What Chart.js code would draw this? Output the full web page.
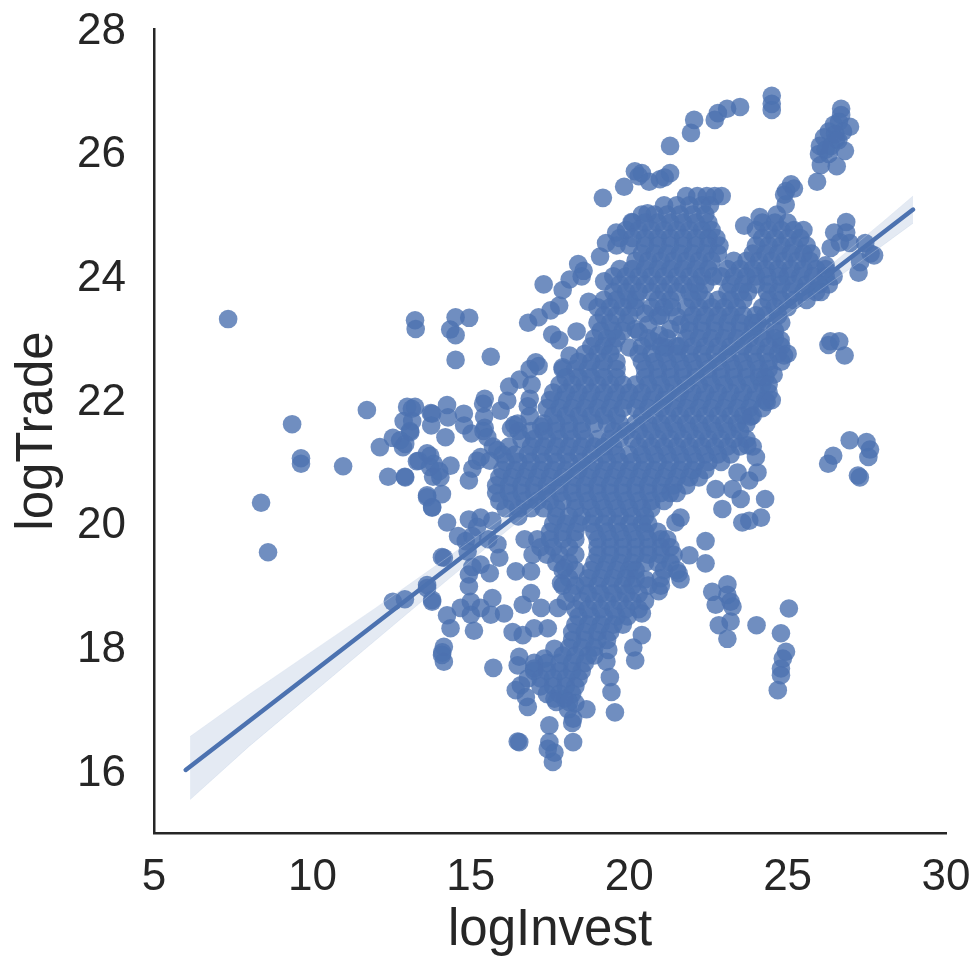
<!DOCTYPE html>
<html>
<head>
<meta charset="utf-8">
<title>logInvest vs logTrade</title>
<script src="https://cdn.jsdelivr.net/npm/chart.js@4"></script>
<style>
  body { margin: 0; background: #fff; }
  canvas { display: block; filter: blur(0.5px); }
</style>
</head>
<body>
<canvas id="chart" width="977" height="956"></canvas>
<script>
const xTicks = [5, 10, 15, 20, 25, 30];
const yTicks = [16, 18, 20, 22, 24, 26, 28];

const looseInvest = [
  7.34, 9.36, 9.64, 9.64, 10.97, 8.38, 8.6, 11.72, 13.24,
  12.99, 13.24, 13.74, 13.08, 12.54, 12.77, 12.86, 12.13, 12.39, 12.92, 13.62, 13.3, 13.71, 13.81, 13.62, 13.78, 13.62, 12.54, 12.92, 13.78, 14.09,
  24.5, 24.5, 24.5, 23.5, 23.09, 22.8, 22.7, 22.05, 21.95, 21.29, 20.18, 20.4, 20.3, 20.63, 20.97, 21.29, 21.12, 19.84, 19.17,
  26.69, 26.69, 26.62, 26.46, 26.97, 26.3, 26.75, 26.15, 26.53, 26.02, 26.37, 26.81, 25.99, 26.3, 26.05, 26.55, 25.93, 26.5, 26.6, 26.2,
  25.11, 25.2, 24.95, 24.89, 24.94,
  13.26, 14.52, 14.95, 14.35, 14.52, 14.52, 15.63, 17.05, 16.86, 17.14, 16.54, 16.21, 16.92, 16.86, 15.44, 15.39, 16.15, 15.94, 16.8, 16.86, 14.28, 13.15, 12.88, 13.75, 14.79, 15.44, 16.37, 16.5,
  16.81, 17.14, 17.52, 17.79, 17.9, 18.12, 17.3, 18.39, 18.5, 18.56, 18.72, 19.08, 19.27, 19.21, 19.59, 20.08, 20.58, 17.57, 17.79, 18.34, 18.12, 17.9,
  23.63, 24.12, 24.66,
  26.85, 26.47, 26.85, 26.96, 26.36, 26.65, 26.2, 27.45, 27.62, 27.24, 27.29, 27.73,
  26.29, 26.63, 26.8, 26.35, 24.78, 24.89, 24.56, 24.34,
  26.96, 27.49, 27.55, 26.44, 26.28, 27.28, 27.22, 27.6,
  24.29, 24.16, 23.79, 23.57, 23.52, 23.26, 22.94, 22.73, 23.42, 23.79, 24.05, 23.73, 24, 23.84, 21.62, 21.46, 22.41, 21.9, 22.41, 21.62, 21.56,
  23.1, 22.62, 23.1, 22.73, 23.26, 23.2, 22.83, 23.2, 23.1, 24.02, 25.04, 24.79, 24.95, 24.85, 24.79, 24.79, 24.69,
  20.4, 20.93, 20.5, 20.4, 20.13, 20.19, 19.55, 19.44, 19.39, 19.28, 19.34,
  18.65, 18.23, 18.2, 18.23, 17.48, 17.48, 17.43, 17.64, 17.59, 16.53, 16.48, 16.8, 16.74, 16.42, 16.58, 17.96, 17.64, 18.07, 18.3, 15.71, 16.53, 16.48,
  14.15, 14.09, 14.15, 14.1, 14.36, 14.25, 15.1, 15, 15, 15.68, 15.63, 16.05, 14.68, 15.31, 16.32, 16.64, 17.43, 17, 16.64, 17.22, 17.75, 16.9, 16.42, 16.9, 17.85, 17.96, 17.64, 17.32, 17,
  13.78, 13.62, 14.15, 14.84, 15.05, 14.94, 14.94, 15.31, 15.9, 14.25, 14.94, 15.31, 15.68, 15.84,
  13.78, 13.62, 14.09, 14.94, 14.04, 12.93, 14.36, 13.83, 13.72, 14.0, 15.2, 15.05, 15.31, 14.2, 13.09, 12.93, 15.02, 15.42, 14.78, 13.78, 13.14, 14.25, 13.35, 16.48, 17.22, 16.27, 15.4, 15.52, 15.84, 15.6,
  20.2, 20.6, 20.95, 21.62, 21.15, 20.75, 20.3, 21.3, 20.9, 20.5, 20.0, 21.5,
  14.6, 14.9, 15.2, 15.55, 15.05, 15.6, 16.7, 16.95
];
const looseTrade = [
  23.31, 21.61, 21.06, 20.97, 20.93, 20.34, 19.54, 21.84, 23.29,
  21.89, 21.89, 21.79, 21.5, 21.39, 21.35, 21.24, 21.24, 20.76, 20.76, 21.14, 21.01, 20.92, 20.76, 20.46, 20.27, 19.01, 18.74, 18.78, 18.77, 19.46,
  26.92, 26.79, 26.69, 26.74, 26.71, 26.64, 26.53, 26.53, 26.32, 26.11, 25.7, 25.67, 25.62, 25.53, 25.57, 25.67, 25.6, 25.45, 25.27,
  26.71, 26.61, 26.5, 26.45, 26.42, 26.34, 26.34, 26.25, 26.22, 26.11, 26.11, 26.03, 25.98, 25.98, 25.8, 25.78, 25.53, 26.3, 26.2, 26.05,
  25.49, 25.42, 25.38, 25.32, 25.16,
  23.15, 23.34, 23.33, 23.14, 23.05, 22.65, 22.7, 22.61, 22.5, 22.55, 22.33, 22.22, 22.25, 22.02, 22.02, 21.94, 21.99, 21.83, 21.9, 21.74, 21.72, 21.66, 21.66, 21.59, 21.59, 21.55, 21.6, 21.5,
  23.25, 23.34, 23.45, 23.53, 23.78, 23.95, 23.87, 24.2, 24.0, 24.09, 23.59, 24.32, 24.54, 23.92, 24.71, 24.88, 25.02, 23.06, 22.97, 23.11, 22.72, 22.53,
  24.82, 24.96, 25.0,
  24.88, 24.71, 24.71, 24.54, 24.46, 24.55, 24.18, 24.54, 24.37, 24.06, 24.23, 24.34,
  22.89, 22.95, 22.72, 22.95, 22.97, 22.72, 22.41, 21.97,
  21.35, 21.32, 21.08, 21.1, 20.97, 20.75, 20.78, 21.2,
  20.4, 20.1, 20.05, 20.02, 20.4, 20.56, 20.24, 20.56, 20.83, 20.7, 20.83, 21.27, 21.08, 21.73, 20.1, 20.02, 19.72, 19.49, 19.36, 19.1, 19.2,
  19.02, 18.9, 18.85, 18.69, 18.66, 18.74, 18.36, 18.42, 18.14, 18.36, 18.63, 18.23, 17.93, 17.82, 17.66, 17.55, 17.31,
  18.55, 18.91, 19.1, 18.2, 18.0, 17.79, 16.95, 17.28, 17.52, 17.77, 17.96,
  17.0, 16.85, 16.78, 16.47, 16.74, 16.47, 16.36, 16.3, 16.15, 16.47, 16.48, 17.04, 17.2, 17.31, 17.39, 17.17, 17.17, 17.0, 17.1, 17.67, 17.85, 17.71,
  17.77, 17.88, 18.01, 17.92, 18.31, 18.52, 18.27, 18.74, 18.53, 18.8, 18.53, 18.55, 18.64, 18.64, 18.25, 18.2, 18.31, 18.31, 18.69, 18.64, 18.64, 18.88, 19.23, 19.23, 19.04, 19.29, 17.98, 17.82, 17.66,
  18.74, 18.96, 19.45, 19.72, 19.8, 19.18, 18.99, 19.34, 19.45, 20.02, 20.07, 20.1, 20.05, 19.67,
  20.26, 20.43, 20.48, 20.7, 20.75, 20.75, 20.94, 20.97, 21.1, 20.85, 21.02, 20.89, 21.08, 21.4, 21.48, 21.29, 21.46, 21.73, 21.78, 21.78, 21.86, 21.92, 21.02, 21.62, 21.57, 21.54, 21.5, 21.4, 21.19, 21.02,
  23.15, 23.22, 23.05, 23.22, 22.85, 22.95, 23.1, 23.15, 23.35, 23.4, 22.85, 23.35,
  19.8, 19.55, 19.95, 19.75, 19.3, 19.2, 19.75, 19.5
];

const rowTrade = [
  25.3, 25.15, 25.0, 24.87, 24.75, 24.62, 24.5, 24.37, 24.25, 24.12, 24.0, 23.87, 23.75, 23.62, 23.5, 23.37, 23.25, 23.12,
  23.0, 22.87, 22.75, 22.62, 22.5, 22.37, 22.25, 22.12, 22.0, 21.87, 21.75, 21.62, 21.5, 21.37, 21.25, 21.12,
  21.0, 20.87, 20.75, 20.62, 20.5, 20.37, 20.25, 20.12, 20.0, 19.87, 19.75, 19.62, 19.5, 19.37, 19.25, 19.12,
  19.0, 18.87, 18.75, 18.62, 18.5, 18.37, 18.25, 18.12, 18.0, 17.87, 17.75, 17.62, 17.5, 17.37, 17.25, 17.12
];
const rowInvest = [
  [21.8, 22.15, 22.45, 22.7, 22.92],
  [21.1, 21.5, 21.9, 22.3, 22.55],
  [20.4, 20.8, 21.2, 21.6, 22.0, 22.4],
  [20.1, 20.5, 20.9, 21.3, 21.7, 22.1, 22.5, 24.2, 24.6, 25.0],
  [19.9, 20.3, 20.7, 21.1, 21.5, 21.9, 22.3, 22.6, 24.0, 24.4, 24.8, 25.2, 25.5],
  [19.7, 20.1, 20.5, 20.9, 21.3, 21.7, 22.1, 22.5, 22.75, 24.2, 24.6, 25.0, 25.4],
  [19.6, 20.0, 20.5, 20.9, 21.3, 21.7, 22.1, 22.5, 22.85, 24.0, 24.4, 24.8, 25.2, 25.6],
  [20.4, 20.8, 21.2, 21.6, 22.0, 22.4, 22.8, 23.9, 24.3, 24.7, 25.1, 25.5, 25.75],
  [20.2, 20.6, 21.0, 21.4, 21.8, 22.2, 22.6, 23.3, 23.7, 24.1, 24.5, 24.9, 25.3, 25.7],
  [19.7, 20.1, 20.5, 20.9, 21.3, 21.7, 22.1, 22.5, 23.1, 23.5, 23.9, 24.3, 24.7, 25.1, 25.5, 25.9, 26.2],
  [19.5, 19.9, 20.3, 20.7, 21.1, 21.5, 21.9, 22.3, 22.65, 22.9, 23.3, 23.7, 24.0, 24.35, 24.75, 25.0, 25.4, 25.8, 26.2, 26.45],
  [19.7, 20.1, 20.5, 20.9, 21.3, 21.7, 22.1, 22.4, 23.2, 23.6, 24.0, 24.4, 24.8, 25.2, 25.6, 26.0, 26.3],
  [19.5, 19.9, 20.3, 20.7, 21.1, 21.5, 21.9, 22.2, 23.1, 23.5, 23.75, 24.35, 24.7, 25.1, 25.5, 25.9, 26.05],
  [19.2, 19.6, 20.0, 20.2, 20.9, 21.3, 22.0, 22.4, 22.8, 23.2, 23.6, 24.4, 24.8, 25.2, 25.6],
  [19.0, 19.4, 19.8, 20.2, 20.7, 21.1, 21.35, 21.8, 22.2, 22.6, 23.0, 23.4, 24.2, 24.6, 25.0],
  [19.2, 19.6, 20.0, 21.0, 22.0, 22.4, 22.8, 23.2, 23.6, 24.0, 24.3, 24.7],
  [19.0, 19.4, 19.9, 21.9, 22.3, 22.7, 23.1, 23.5, 23.9, 24.05, 24.8],
  [19.1, 19.5, 19.8, 21.9, 22.3, 22.7, 23.1, 23.5, 23.9, 24.3, 24.6],
  [18.9, 19.3, 19.6, 20.6, 21.2, 21.8, 22.2, 22.6, 23.0, 23.4, 23.8, 24.2, 24.6],
  [18.8, 19.2, 19.5, 20.4, 21.0, 21.5, 21.6, 22.0, 22.4, 22.8, 23.2, 23.6, 24.0, 24.4, 24.8],
  [18.6, 19.0, 19.4, 20.3, 20.7, 21.1, 21.5, 21.9, 22.3, 22.7, 23.1, 23.5, 23.9, 24.3, 24.7, 25.0],
  [18.4, 18.8, 19.2, 19.6, 20.4, 20.8, 21.2, 21.6, 22.0, 22.4, 22.8, 23.2, 23.6, 24.0, 24.4, 24.8],
  [17.9, 18.3, 18.7, 19.1, 19.6, 20.5, 20.9, 21.3, 21.7, 22.1, 22.5, 22.9, 23.3, 23.7, 24.1, 24.4],
  [18.0, 18.4, 18.8, 19.2, 19.6, 20.5, 20.9, 21.3, 21.7, 22.1, 22.5, 22.9, 23.3, 23.7, 24.1, 24.3],
  [17.8, 18.2, 18.6, 19.0, 19.4, 19.8, 20.2, 20.6, 21.0, 21.4, 21.8, 22.2, 22.6, 23.0, 23.4, 23.8, 24.2, 24.4],
  [17.6, 18.0, 18.4, 18.8, 19.2, 19.6, 20.0, 20.4, 20.8, 21.2, 21.6, 22.0, 22.4, 22.8, 23.2, 23.6, 24.0, 24.4],
  [17.5, 17.9, 18.3, 18.7, 19.1, 19.5, 19.9, 20.3, 20.7, 21.1, 21.5, 21.9, 22.3, 22.7, 23.1, 23.5, 23.9, 24.3, 24.5],
  [17.4, 17.8, 18.2, 18.6, 19.0, 19.4, 19.8, 20.2, 20.6, 21.0, 21.4, 21.8, 22.2, 22.6, 23.0, 23.4, 23.8, 24.2],
  [17.6, 18.0, 18.4, 18.8, 19.2, 19.6, 20.4, 20.8, 21.2, 21.6, 22.0, 22.4, 22.8, 23.2, 23.6, 23.9],
  [17.3, 17.7, 18.1, 18.5, 18.9, 19.3, 19.7, 20.2, 20.6, 21.0, 21.4, 21.8, 22.2, 22.6, 23.0, 23.4, 23.7],
  [16.9, 17.3, 17.7, 18.1, 18.5, 19.5, 19.9, 20.3, 20.7, 21.1, 21.5, 21.9, 22.3, 22.7, 23.1, 23.5],
  [16.6, 17.0, 17.4, 17.8, 18.2, 18.6, 19.0, 19.4, 19.7, 20.1, 20.5, 20.9, 21.3, 21.7, 22.1, 22.5, 22.9, 23.3, 23.7],
  [15.7, 16.2, 16.9, 17.3, 17.7, 18.1, 18.5, 18.9, 19.2, 19.5, 20.3, 20.7, 21.1, 21.5, 21.9, 22.3, 22.7, 23.1, 23.5, 23.9],
  [16.0, 16.4, 16.8, 17.2, 17.6, 18.0, 18.4, 18.8, 19.2, 19.6, 20.0, 20.4, 20.8, 21.2, 21.6, 22.0, 22.4, 22.8, 23.2],
  [16.1, 16.5, 16.9, 17.3, 17.7, 18.1, 18.5, 18.9, 19.3, 19.7, 20.1, 20.5, 20.9, 21.3, 21.7, 22.1, 22.5, 22.9],
  [16.0, 16.4, 16.8, 17.2, 17.6, 18.0, 18.4, 18.8, 19.2, 19.6, 20.0, 20.4, 20.8, 21.2, 21.6, 22.0, 22.4],
  [15.9, 16.3, 16.7, 17.1, 17.5, 17.9, 18.3, 18.7, 19.1, 19.5, 19.9, 20.3, 20.7, 21.1, 21.5, 21.9, 22.2],
  [15.8, 16.2, 16.6, 17.0, 17.4, 17.8, 18.2, 18.6, 19.0, 19.4, 19.8, 20.2, 20.6, 21.0, 21.4, 21.8],
  [15.8, 16.2, 16.6, 17.0, 17.4, 17.8, 18.2, 18.6, 19.0, 19.4, 19.8, 20.2, 20.6, 21.0, 21.3, 21.5],
  [15.9, 16.3, 16.7, 17.1, 17.5, 17.9, 18.3, 18.7, 19.1, 19.5, 19.9, 20.3, 20.7, 21.1],
  [16.1, 16.5, 16.9, 17.3, 17.7, 18.3, 18.8, 19.2, 19.6, 20.0, 20.4, 20.7],
  [16.5, 17.7, 18.1, 18.5, 18.9, 19.3, 19.7, 20.1, 20.5],
  [17.6, 18.0, 18.4, 18.8, 19.2, 19.6, 20.0, 20.4, 20.6],
  [17.5, 17.9, 18.3, 18.9, 19.3, 19.7, 20.1, 20.5, 20.9],
  [17.1, 17.5, 17.9, 18.3, 19.0, 19.4, 19.8, 20.2, 20.6, 21.0, 21.2],
  [17.2, 17.6, 18.1, 19.0, 19.4, 19.8, 20.2, 20.6, 21.0, 21.3],
  [17.4, 17.8, 18.3, 19.0, 19.4, 19.8, 20.2, 20.6, 21.0, 21.4],
  [17.7, 18.1, 18.9, 19.3, 19.7, 20.1, 20.5, 20.9, 21.3],
  [17.9, 18.3, 18.8, 19.2, 19.6, 20.0, 20.2, 21.1, 21.5],
  [18.1, 18.7, 19.1, 19.5, 19.9, 20.2, 21.0],
  [17.9, 18.3, 18.6, 19.0, 19.4, 19.8, 20.1, 20.6, 21.0],
  [18.2, 18.7, 19.1, 19.5, 19.9, 20.3],
  [18.0, 18.5, 18.9, 19.3, 19.7, 20.1, 20.5],
  [18.3, 18.7, 19.1, 19.5, 19.9, 20.3],
  [18.4, 18.8, 19.2, 19.6, 19.95],
  [18.3, 18.7, 19.1, 19.5, 19.8],
  [18.2, 18.6, 19.0, 19.4],
  [18.2, 18.6, 19.0, 19.3],
  [18.1, 18.5, 18.9],
  [17.9, 18.3, 18.7, 18.9],
  [17.0, 17.4, 17.8, 18.2, 18.6],
  [17.0, 17.4, 17.8, 18.2, 18.5],
  [16.8, 17.2, 17.6, 18.0, 18.4],
  [17.2, 17.6, 18.0, 18.3],
  [17.4, 17.8, 18.2],
  [17.7, 18.1]
];

// regression line and its confidence band
const lineInvest = [6.0, 28.96];
const lineTrade = [16.02, 25.08];
const bandInvest = [6.14, 8, 10, 12, 14, 16, 18, 20, 22, 24, 26, 28, 28.96];
const bandUpper = [16.56, 17.24, 17.94, 18.64, 19.36, 20.09, 20.84, 21.62, 22.4, 23.21, 24.03, 24.88, 25.3];
const bandLower = [15.54, 16.4, 17.26, 18.12, 18.98, 19.83, 20.66, 21.46, 22.24, 23.01, 23.77, 24.5, 24.86];

const COLOR = "#4c72b0";
const TEXT = "#262626";
const TICK_FONT = { family: "'Liberation Sans', Arial, sans-serif", size: 44 };
const TITLE_FONT = { family: "'Liberation Sans', Arial, sans-serif", size: 51, lineHeight: 1 };

const points = looseInvest.map((x, i) => ({ x: x, y: looseTrade[i] }));
rowTrade.forEach((y, r) => {
    rowInvest[r].forEach((x) => points.push({ x: x, y: y }));
});

new Chart(document.getElementById("chart"), {
    type: "scatter",
    data: {
        datasets: [
            {
                data: points,
                backgroundColor: "rgba(76,114,176,0.8)",
                borderWidth: 0,
                pointRadius: 9.3,
                order: 3
            },
            {
                type: "line",
                data: bandInvest.map((x, i) => ({ x: x, y: bandUpper[i] })),
                borderColor: "rgba(205,218,236,0.35)",
                borderWidth: 1,
                backgroundColor: "rgba(76,114,176,0.15)",
                fill: "+1",
                pointRadius: 0,
                order: 2
            },
            {
                type: "line",
                data: bandInvest.map((x, i) => ({ x: x, y: bandLower[i] })),
                borderColor: "rgba(205,218,236,0.35)",
                borderWidth: 1,
                fill: false,
                pointRadius: 0,
                order: 2
            },
            {
                type: "line",
                data: lineInvest.map((x, i) => ({ x: x, y: lineTrade[i] })),
                borderColor: COLOR,
                borderWidth: 4.5,
                borderCapStyle: "round",
                fill: false,
                pointRadius: 0,
                order: 1
            }
        ]
    },
    options: {
        responsive: false,
        animation: false,
        layout: { padding: { top: 29, right: 31 } },
        plugins: { legend: { display: false }, tooltip: { enabled: false } },
        scales: {
            x: {
                type: "linear",
                min: 5,
                max: 30,
                afterFit: (scale) => { scale.height = 123; },
                afterBuildTicks: (scale) => { scale.ticks = xTicks.map((v) => ({ value: v })); },
                // tick marks stay hidden, tickLength only spaces the labels from the axis
                grid: { display: false, drawTicks: true, tickLength: 18 },
                border: { display: true, color: TEXT, width: 2.5 },
                ticks: { color: TEXT, font: TICK_FONT, padding: 0, maxRotation: 0, autoSkip: false },
                title: { display: true, text: "logInvest", color: TEXT, font: TITLE_FONT, padding: { top: 0, bottom: 0 } }
            },
            y: {
                type: "linear",
                min: 15,
                max: 28,
                afterFit: (scale) => { scale.width = 154; },
                afterBuildTicks: (scale) => { scale.ticks = yTicks.map((v) => ({ value: v })); },
                grid: { display: false, drawTicks: true, tickLength: 28 },
                border: { display: true, color: TEXT, width: 2.5 },
                ticks: { color: TEXT, font: TICK_FONT, padding: 0, labelOffset: 2.5, autoSkip: false },
                title: { display: true, text: "logTrade", color: TEXT, font: TITLE_FONT, padding: { top: 12, bottom: 0 } }
            }
        }
    }
});
</script>
</body>
</html>
